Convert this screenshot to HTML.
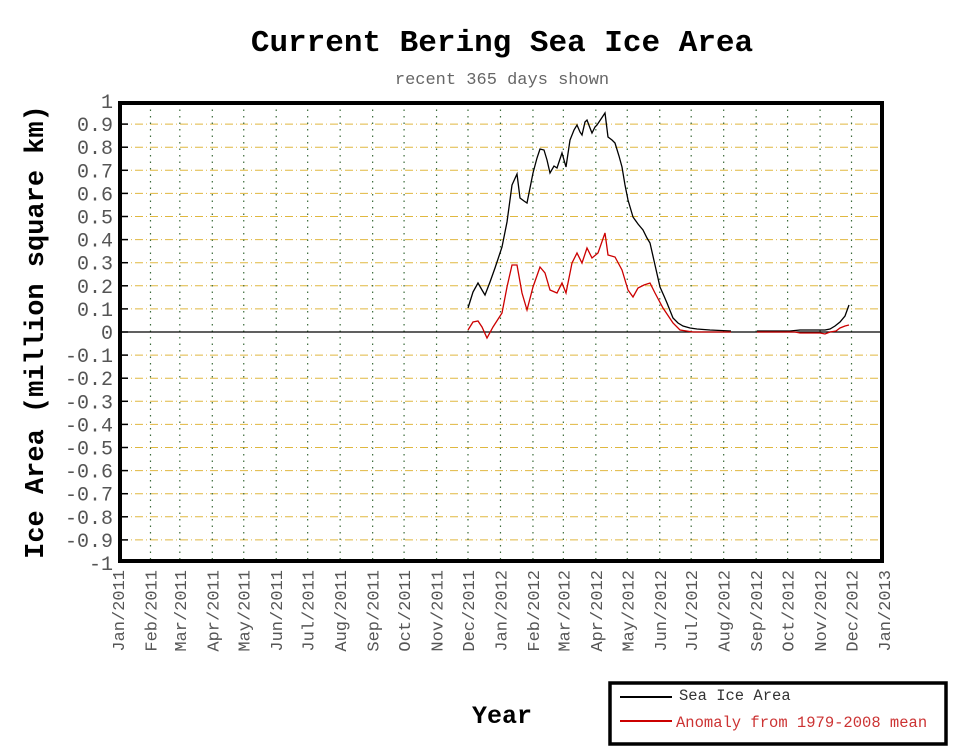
<!DOCTYPE html>
<html><head><meta charset="utf-8"><style>
html,body{margin:0;padding:0;background:#fff;}
svg{display:block;}
text{font-family:"Liberation Mono",monospace;}
</style></head><body>
<svg width="954" height="754" xmlns="http://www.w3.org/2000/svg">
<rect width="954" height="754" fill="#fff"/>
<text x="502" y="51" font-size="31" font-weight="bold" text-anchor="middle" fill="#000">Current Bering Sea Ice Area</text>
<text x="502" y="84" font-size="17" text-anchor="middle" fill="#666">recent 365 days shown</text>
<text transform="translate(43,332) rotate(-90)" font-size="27" font-weight="bold" text-anchor="middle" fill="#000">Ice Area (million square km)</text>
<text x="502" y="723" font-size="25" font-weight="bold" text-anchor="middle" fill="#000">Year</text>
<g id="grid"></g>
<g id="lab"></g>
<rect x="120" y="103" width="762" height="458" fill="none" stroke="#000" stroke-width="4"/>
<line x1="120" y1="332" x2="882" y2="332" stroke="#000" stroke-width="1.3"/>
<polyline fill="none" stroke="#000" stroke-width="1.3" points="468,308 473,292 478,283 482,290 485,295 490,282 495,268 502,247 507,222 512,185 517,174 520,198 524,201 527,203 533,173 537,158 540,149 544,150 547,160 550,173 554,166 557,168 562,153 566,167 570,140 574,130 577,125 580,132 582,135 585,122 587,120 590,128 592,133 595,127 597,125 601,119 605,113 608,137 612,140 615,143 619,156 622,167 625,185 628,200 633,217 638,224 643,230 647,238 650,243 655,265 660,287 664,296 667,303 673,318 678,323 683,326 690,328 697,329 710,330 731,331"/>
<polyline fill="none" stroke="#000" stroke-width="1.3" points="757,331 790,331 800,330 825,330 830,329 835,326 840,322 845,316 849,305"/>
<polyline fill="none" stroke="#c00" stroke-width="1.3" points="468,330 473,322 478,321 482,327 487,338 493,327 502,313 507,287 512,265 517,265 522,293 527,310 533,287 540,267 545,273 550,290 557,293 562,283 566,293 572,263 577,253 582,263 587,248 592,258 598,253 605,233 608,255 615,257 622,270 628,290 633,297 638,288 644,285 650,283 655,293 663,308 673,323 680,330 693,332 731,332"/>
<polyline fill="none" stroke="#c00" stroke-width="1.3" points="757,332 795,332 800,333 820,333 825,334 830,332 836,331 840,328 845,326 849,325"/>
<rect x="610" y="683" width="336" height="61" fill="#fff" stroke="#000" stroke-width="3.5"/>
<line x1="620" y1="697" x2="672" y2="697" stroke="#000" stroke-width="2"/>
<line x1="620" y1="721" x2="672" y2="721" stroke="#c00" stroke-width="2"/>
<text x="679" y="700" font-size="15.5" fill="#333">Sea Ice Area</text>
<text x="676" y="727" font-size="15.5" fill="#c33">Anomaly from 1979-2008 mean</text>
</svg>
<script>
var ns="http://www.w3.org/2000/svg";
var g=document.getElementById("grid"),l=document.getElementById("lab");
function el(p,t,a,txt){var e=document.createElementNS(ns,t);for(var k in a)e.setAttribute(k,a[k]);if(txt!==undefined)e.textContent=txt;p.appendChild(e);return e;}
for(var i=0;i<=20;i++){
 var y=101+i*23.1;var v=(10-i)/10;
 if(i>0&&i<20&&i!=10){el(g,"line",{x1:120,x2:882,y1:y,y2:y,stroke:"#e0b840","stroke-width":1,"stroke-dasharray":"8,3,1,3"});}
 if(i>0&&i<20)el(g,"line",{x1:120,x2:128,y1:y,y2:y,stroke:"#000","stroke-width":1.5});
 var s=(v==1?"1":v==-1?"-1":v==0?"0":v.toFixed(1));
 el(l,"text",{x:113,y:y+7,"font-size":20,"text-anchor":"end",fill:"#555"},s);
}
var days=[0,31,59,90,120,151,181,212,243,273,304,334,365,396,425,456,486,517,547,578,609,639,670,700,731];
var mn=["Jan","Feb","Mar","Apr","May","Jun","Jul","Aug","Sep","Oct","Nov","Dec"];
for(var j=0;j<days.length;j++){
 var x=118+days[j]*766/731;
 if(j>0&&j<24)el(g,"line",{x1:x,x2:x,y1:103,y2:561,stroke:"#3a6a3a","stroke-width":1.2,"stroke-dasharray":"1.5,5"});
 var yr=2011+Math.floor(j/12);
 el(l,"text",{transform:"translate("+(x+6)+",570) rotate(-90)","font-size":17,"text-anchor":"end",fill:"#555"},mn[j%12]+"/"+yr);
}
</script>
</body></html>
